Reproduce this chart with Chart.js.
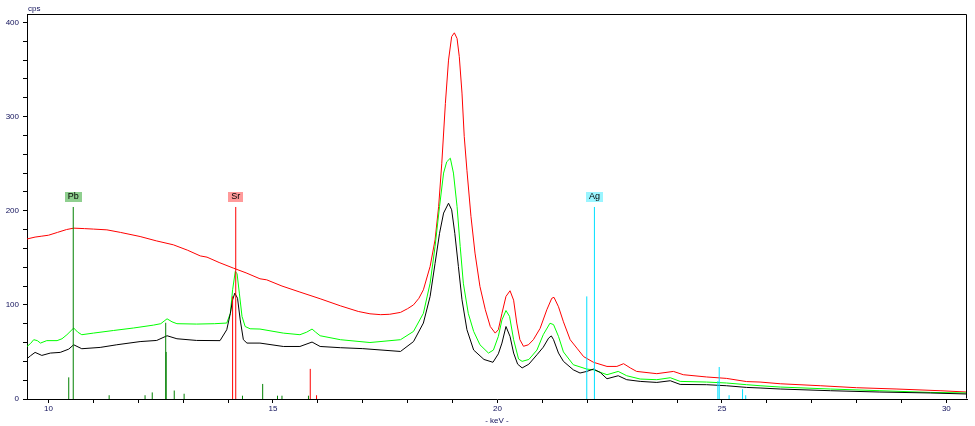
<!DOCTYPE html>
<html>
<head>
<meta charset="utf-8">
<script src="https://cdn.jsdelivr.net/npm/chart.js@4/dist/chart.umd.min.js"></script>
<style>
  html, body { margin: 0; padding: 0; background: #ffffff; }
  #wrap { width: 975px; height: 426px; position: relative; }
</style>
</head>
<body>
<div id="wrap"><canvas id="c" width="975" height="426"></canvas></div>
<script>
// ---- Spectra (keV, cps) ----
const keVRed = [9.52,9.7,9.85,10.0,10.2,10.4,10.56,10.8,11.0,11.3,11.6,12.04,12.4,12.78,13.1,13.38,13.53,13.8,14.12,14.4,14.71,14.86,15.2,15.6,16.05,16.5,16.9,17.16,17.4,17.6,17.84,18.0,18.13,18.25,18.35,18.5,18.61,18.69,18.76,18.84,18.91,18.98,19.04,19.1,19.15,19.21,19.26,19.32,19.41,19.5,19.61,19.73,19.84,19.95,20.02,20.1,20.19,20.28,20.36,20.43,20.5,20.58,20.69,20.8,20.95,21.1,21.21,21.26,21.36,21.47,21.62,21.77,21.92,22.14,22.44,22.66,22.81,22.96,23.1,23.55,23.92,24.14,24.66,25.1,25.55,25.85,26.3,27.19,28.0,28.9,29.86,30.46];
const cpsRed = [170,172,173,174,177,180,181.5,181,180.5,179.7,177,172.6,168,163.8,158,152,150.7,145,139,134,127.7,126.6,120,113.6,106.5,99,93,90.5,89.6,90,92,96,100,107,116,140.8,169,204.5,250.5,314,360,385,389,383,363.7,325,279,243,194,155,119.5,94.8,77,70,73.6,91,109,115,105,80.7,63,56,57.6,63,75,94.8,107,108,98,82,63,54,45,39,34.6,34.6,37.5,33,29.3,26.9,29.3,25.8,23.4,21.9,18.5,18,16.2,14.1,12,10.6,8.8,7.4];

const keVGreen = [9.52,9.6,9.67,9.75,9.82,9.96,10.19,10.3,10.41,10.56,10.65,10.74,11.0,11.45,11.89,12.34,12.5,12.64,12.75,12.86,13.3,13.7,13.97,14.05,14.1,14.16,14.2,14.25,14.31,14.38,14.49,14.71,15.23,15.6,15.75,15.87,15.95,16.05,16.5,17.16,17.84,18.13,18.35,18.5,18.61,18.71,18.8,18.87,18.95,19.02,19.1,19.17,19.24,19.35,19.47,19.61,19.8,19.91,20.02,20.1,20.19,20.27,20.36,20.47,20.55,20.7,20.88,21.02,21.17,21.25,21.36,21.47,21.69,21.99,22.14,22.44,22.69,22.88,23.18,23.55,23.85,24.07,24.66,25.1,25.55,25.85,26.3,27.42,28.52,29.64,30.46];
const cpsGreen = [55.8,59,63,62,59.4,62,62,64,68.3,75.4,71,68.3,70,72.8,75.4,78.5,80,85.2,82,80,79.6,80,80.7,91,116,135.5,133,112.5,87.7,77,74.6,74.3,70,68.3,71,74.3,71,67.2,63,60,63,71.8,91,123,162,204.5,240,252,255.8,240,204.5,162,123,91,71.8,57.6,48.8,52,66.5,84,94,87.7,63,42.5,40,42,52,68.3,80.5,79,66.5,50,36.4,31.8,31,25.8,29.3,24.7,21.2,20.5,22.6,18.7,18,17,15.2,14.1,12.7,10.6,8.8,7,6.4];

const keVBlack = [9.52,9.6,9.7,9.85,10.04,10.26,10.45,10.56,10.74,11.15,11.52,12.04,12.41,12.64,12.86,13.3,13.82,13.97,14.05,14.1,14.15,14.21,14.27,14.34,14.42,14.71,15.23,15.6,15.87,16.05,16.5,17.0,17.84,18.13,18.35,18.5,18.61,18.71,18.8,18.91,18.98,19.05,19.13,19.21,19.32,19.47,19.7,19.9,20.02,20.1,20.19,20.28,20.36,20.45,20.55,20.7,20.88,21.02,21.14,21.2,21.25,21.36,21.47,21.69,21.84,21.99,22.14,22.29,22.44,22.69,22.88,23.18,23.55,23.85,24.07,24.66,25.1,25.55,25.85,26.3,27.42,28.52,29.64,30.46];
const cpsBlack = [42.8,46,49.5,46.3,48.8,49.5,53,57.6,53.4,54.8,57.6,61,62.2,67.2,64,62.2,62,73.6,91,105.4,112.5,107,84,63,59.4,59.4,55.8,55.8,60.5,55.8,54.5,53.5,50.5,61,80.7,109,144,176,197.5,208,201,176,140.8,105.4,73.6,52,42,39,48,59.4,77,66.5,48.8,37,33,37,47,55,64.7,67,63,48.8,40,31,27.6,29.3,31.8,28.2,21.5,24.7,20.5,18.7,17.6,19.4,15.5,15.2,14.1,12.3,11.7,10.6,8.8,7.4,6.4,5.3];

// ---- Element marker lines (keV, height in cps) ----
const pbKeV = [10.45,10.55,11.35,12.15,12.31,12.61,12.62,12.80,13.02,14.32,14.77,15.10,15.20,15.79];
const pbCps = [23,204,4,4,7,81,50,9,5.6,3.5,16,3.5,3.5,3.5];
const srKeV = [14.10,14.17,15.83,15.97];
const srCps = [109,204,32,4];
const agKeV = [21.99,22.16,24.91,24.94,25.16,25.46,25.53];
const agCps = [109,204,19,34,4,10.5,4];

// ---- Element labels ----
const elemNames = ['Pb','Sr','Ag'];
const elemKeV = [10.55,14.17,22.16];
const elemCps = [204,204,204];

// ---- Axis settings ----
const xMin = 9.52, xMax = 30.46;
const yMin = 0, yMax = 409;
const xLabelStep = 5, yLabelStep = 100;

function pts(xs, ys) { return xs.map((x, i) => ({ x: x, y: ys[i] })); }
function sticks(xs, ys) {
  const out = [];
  xs.forEach((x, i) => { out.push({ x: x, y: 0 }, { x: x, y: ys[i] }, { x: x, y: null }); });
  return out;
}

const FONT = '"Liberation Sans", Arial, sans-serif';
const LABEL_COLOR = '#10105a';
const boxColors = { Pb: '#8fcf8f', Sr: '#ff9a9a', Ag: '#9af5ff' };

const framePlugin = {
  id: 'frame',
  afterDraw(chart) {
    const { ctx, chartArea: a, scales } = chart;
    ctx.save();
    ctx.strokeStyle = '#000';
    ctx.lineWidth = 1;
    ctx.beginPath();
    ctx.moveTo(Math.round(a.left) + 0.5, Math.round(a.top) + 0.5);
    ctx.lineTo(Math.round(a.right) - 0.5, Math.round(a.top) + 0.5);
    ctx.lineTo(Math.round(a.right) - 0.5, Math.round(a.bottom) - 0.5);
    ctx.stroke();
    // cps unit
    ctx.fillStyle = LABEL_COLOR;
    ctx.font = '8px ' + FONT;
    ctx.textBaseline = 'bottom';
    ctx.textAlign = 'left';
    ctx.fillText('cps', a.left + 1, a.top - 1);
    // element label boxes
    ctx.font = '9px ' + FONT;
    ctx.textAlign = 'center';
    ctx.textBaseline = 'middle';
    elemNames.forEach((n, i) => {
      const px = scales.x.getPixelForValue(elemKeV[i]);
      const py = scales.y.getPixelForValue(elemCps[i]);
      const w = ctx.measureText(n).width + 6;
      const h = 10;
      ctx.fillStyle = boxColors[n];
      ctx.fillRect(Math.round(px - w / 2), Math.round(py - 15), Math.round(w), h);
      ctx.fillStyle = '#000';
      ctx.fillText(n, px, py - 10);
    });
    ctx.restore();
  }
};

new Chart(document.getElementById('c'), {
  type: 'line',
  data: {
    datasets: [
      { label: 'Pb lines', data: sticks(pbKeV, pbCps), borderColor: '#008000', borderWidth: 1, order: 0 },
      { label: 'Sr lines', data: sticks(srKeV, srCps), borderColor: '#ff0000', borderWidth: 1, order: 0 },
      { label: 'Ag lines', data: sticks(agKeV, agCps), borderColor: '#00e0ff', borderWidth: 1, order: 0 },
      { label: 'black', data: pts(keVBlack, cpsBlack), borderColor: '#000000', borderWidth: 1, order: 1 },
      { label: 'green', data: pts(keVGreen, cpsGreen), borderColor: '#00ff00', borderWidth: 1, order: 2 },
      { label: 'red', data: pts(keVRed, cpsRed), borderColor: '#ff0000', borderWidth: 1, order: 3 }
    ]
  },
  options: {
    responsive: false,
    animation: false,
    devicePixelRatio: 1,
    spanGaps: false,
    elements: { point: { radius: 0 }, line: { tension: 0, fill: false } },
    layout: { padding: { top: 14, right: 8, left: 0, bottom: 0 } },
    plugins: { legend: { display: false }, tooltip: { enabled: false } },
    scales: {
      x: {
        type: 'linear',
        min: xMin, max: xMax,
        afterFit: s => { s.height = 27; },
        border: { color: '#000', width: 1 },
        grid: { drawOnChartArea: false, tickLength: 4, color: '#000', tickColor: '#000' },
        ticks: {
          stepSize: 1, includeBounds: false, autoSkip: false, maxRotation: 0,
          color: LABEL_COLOR, font: { size: 8, family: FONT }, padding: 1,
          callback: v => (Math.abs(v % xLabelStep) < 1e-6 ? String(v) : '')
        },
        title: { display: true, text: '- keV -', color: LABEL_COLOR, font: { size: 8, family: FONT }, padding: { top: 0, bottom: 0 } }
      },
      y: {
        type: 'linear',
        min: yMin, max: yMax,
        afterFit: s => { s.width = 27; },
        border: { color: '#000', width: 1 },
        grid: { drawOnChartArea: false, tickLength: 4, color: '#000', tickColor: '#000' },
        ticks: {
          stepSize: 20, includeBounds: false, autoSkip: false,
          color: LABEL_COLOR, font: { size: 8, family: FONT }, padding: 4,
          callback: v => (Math.abs(v % yLabelStep) < 1e-6 ? String(v) : '')
        }
      }
    }
  },
  plugins: [framePlugin]
});
</script>
</body>
</html>
